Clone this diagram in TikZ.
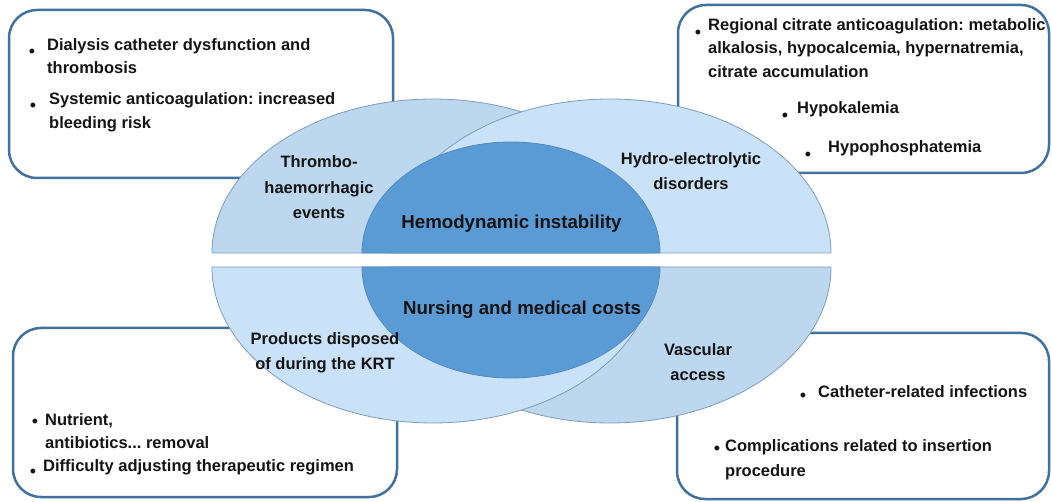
\documentclass[tikz,border=0pt]{standalone}
\usepackage{fontspec}
\setmainfont{Liberation Sans}
\definecolor{boxblue}{HTML}{41719C}
\definecolor{midblue}{HTML}{BDD7EE}
\definecolor{lightblue}{HTML}{CAE2F7}
\definecolor{darkblue}{HTML}{5B9BD5}
\definecolor{lensline}{HTML}{7D9CBB}
\definecolor{txtc}{HTML}{141414}
\frenchspacing
\begin{document}
\begin{tikzpicture}[x=1pt,y=-1pt,
  box/.style={draw=boxblue, line width=2.5pt, rounded corners=28pt, fill=white},
  lens/.style={draw=lensline, line width=0.8pt},
  txt/.style={font=\fontsize{16.5}{24}\selectfont\bfseries, text=txtc, inner sep=0pt, anchor=base west},
  lbl/.style={font=\fontsize{16.5}{24}\selectfont\bfseries, text=txtc, inner sep=0pt, anchor=base},
  big/.style={font=\fontsize{18.7}{24}\selectfont\bfseries, text=txtc, inner sep=0pt, anchor=base},
  bul/.style={font=\fontsize{18}{18}\selectfont, text=txtc, inner sep=0pt, anchor=center}]
\useasboundingbox (0,0) rectangle (1052,502);
\fill[white] (0,0) rectangle (1052,502);
% boxes
\draw[box] (9,10) rectangle (393,178);
\draw[box] (678,5) rectangle (1049,173);
\draw[box] (13,328) rectangle (397,497);
\draw[box] (677,333) rectangle (1049,499);
% top band
\filldraw[lens, fill=midblue] (212,253) arc[start angle=180, end angle=0, x radius=221pt, y radius=154pt] -- cycle;
\filldraw[lens, fill=lightblue] (389,253) arc[start angle=180, end angle=0, x radius=221pt, y radius=154pt] -- cycle;
\filldraw[lens, draw=darkblue!90!black, fill=darkblue] (362,253) arc[start angle=180, end angle=0, x radius=149pt, y radius=111pt] -- cycle;
% bottom band
\filldraw[lens, fill=midblue] (389,267) arc[start angle=180, end angle=360, x radius=221pt, y radius=156pt] -- cycle;
\filldraw[lens, fill=lightblue] (212,267) arc[start angle=180, end angle=360, x radius=221pt, y radius=156pt] -- cycle;
\filldraw[lens, draw=darkblue!90!black, fill=darkblue] (362,267) arc[start angle=180, end angle=360, x radius=149pt, y radius=111pt] -- cycle;
% lens labels
\node[lbl] (th1) at (319,168) {Thrombo-};
\node[lbl] (th2) at (319,194) {haemorrhagic};
\node[lbl] (th3) at (319,219) {events};
\node[lbl] (hy1) at (691,165) {Hydro-electrolytic};
\node[lbl] (hy2) at (691,190) {disorders};
\node[big] (hemo) at (511.5,229) {Hemodynamic instability};
\node[big] (nurs) at (522,314.5) {Nursing and medical costs};
\node[lbl] (pr1) at (325,345) {Products disposed};
\node[lbl] (pr2) at (325,370) {of during the KRT};
\node[lbl] (va1) at (698,356) {Vascular};
\node[lbl] (va2) at (698,381) {access};
% top-left box
\node[bul] (b1) at (32,53) {•};
\node[txt] (tl1) at (47,51) {Dialysis catheter dysfunction and};
\node[txt] (tl2) at (47,74) {thrombosis};
\node[bul] (b2) at (33,107) {•};
\node[txt] (tl3) at (49,105) {Systemic anticoagulation: increased};
\node[txt] (tl4) at (49,129) {bleeding risk};
% top-right box
\node[bul] (b3) at (698,34) {•};
\node[txt] (tr1) at (708,31) {Regional citrate anticoagulation: metabolic};
\node[txt] (tr2) at (708,54) {alkalosis, hypocalcemia, hypernatremia,};
\node[txt] (tr3) at (708,78) {citrate accumulation};
\node[bul] (b4) at (785,117) {•};
\node[txt] (tr4) at (797,114) {Hypokalemia};
\node[bul] (b5) at (808,156) {•};
\node[txt] (tr5) at (828,153) {Hypophosphatemia};
% bottom-left box
\node[bul] (b6) at (35,423) {•};
\node[txt] (bl1) at (45,425) {Nutrient,};
\node[txt] (bl2) at (45,448) {antibiotics... removal};
\node[bul] (b7) at (33,473) {•};
\node[txt] (bl3) at (43,471) {Difficulty adjusting therapeutic regimen};
% bottom-right box
\node[bul] (b8) at (803,397) {•};
\node[txt] (br1) at (818,398) {Catheter-related infections};
\node[bul] (b9) at (717,450) {•};
\node[txt] (br2) at (725,451) {Complications related to insertion};
\node[txt] (br3) at (725,476) {procedure};
\end{tikzpicture}
\end{document}
